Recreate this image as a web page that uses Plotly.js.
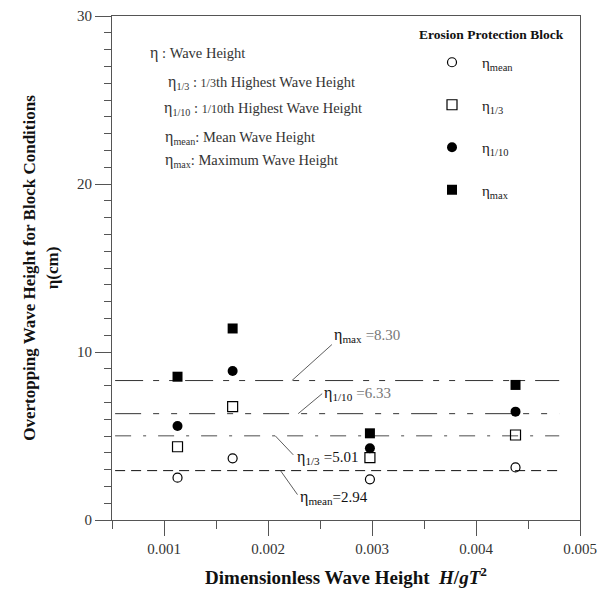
<!DOCTYPE html>
<html><head><meta charset="utf-8">
<script src="https://cdn.plot.ly/plotly-3.0.1.min.js"></script>
<style>html,body{margin:0;padding:0;background:#fff}</style>
</head><body><div id="chart" style="width:597px;height:597px"></div>
<script>
// ---- data ----
const xValues = [0.00113, 0.00166, 0.00298, 0.00438];
const etaMean = [2.52, 3.67, 2.42, 3.13];
const eta13 = [4.36, 6.75, 3.71, 5.06];
const eta110 = [5.60, 8.87, 4.27, 6.45];
const etaMax = [8.53, 11.40, 5.16, 8.04];
const seriesNames = ['η<sub>mean</sub>', 'η<sub>1/3</sub>', 'η<sub>1/10</sub>', 'η<sub>max</sub>'];
const avgKeys = ['max', '1/10', '1/3', 'mean'];
const avgValues = [8.30, 6.33, 5.01, 2.94];
const avgLabels = ['8.30', '6.33', '5.01', '2.94'];
const xTickVals = [0.001, 0.002, 0.003, 0.004, 0.005];
const xTickText = ['0.001', '0.002', '0.003', '0.004', '0.005'];
const yTickVals = [0, 10, 20, 30];
const ETA = '<span style="font-size:16px">η</span>';
const defLines = [
  ETA + ' : Wave Height',
  ETA + '<sub>1/3</sub> : <span style="font-size:12px">1/3</span>th Highest Wave Height',
  ETA + '<sub>1/10</sub> : <span style="font-size:12px">1/10</span>th Highest Wave Height',
  ETA + '<sub>mean</sub>: Mean Wave Height',
  ETA + '<sub>max</sub>: Maximum Wave Height'
];

// ---- styles ----
const FONT = 'Liberation Serif, Times New Roman, serif';
const lineExtent = [0.00053, 0.0048];
const avgStyles = {
  'max':  {color: '#333', dash: '28px,10px,6px,10px,6px,10px', width: 1},
  '1/10': {color: '#333', dash: '26px,12px,6px,12px,6px,12px', width: 1},
  '1/3':  {color: '#888', dash: '16px,12px,3px,12px', width: 1.5},
  'mean': {color: '#111', dash: '10px,6px', width: 1}
};
const leader = {
  'max':  {x: 0.00223, ax: 40, ay: -36, tx: 40, ty: 45, gap: ' ', col: '#777'},
  '1/10': {x: 0.00229, ax: 24, ay: -20, tx: 24, ty: 20, gap: ' ', col: '#777'},
  '1/3':  {x: 0.00207, ax: 18, ay: 19, tx: 20, ty: -22, gap: ' ', col: '#111'},
  'mean': {x: 0.00212, ax: 17, ay: 24, tx: 18, ty: -27, gap: '', col: '#111'}
};
const markerStyles = [
  {symbol: 'circle-open', size: 9, color: '#000', line: {width: 1.2, color: '#000'}},
  {symbol: 'square-open', size: 10, color: '#000', line: {width: 1.2, color: '#000'}},
  {symbol: 'circle', size: 10, color: '#000'},
  {symbol: 'square', size: 10, color: '#000'}
];
const seriesData = [etaMean, eta13, eta110, etaMax];

const traces = [];
avgKeys.forEach((k, i) => {
  traces.push({
    x: lineExtent, y: [avgValues[i], avgValues[i]], mode: 'lines',
    line: avgStyles[k], showlegend: false, hoverinfo: 'skip'
  });
});
seriesData.forEach((ys, i) => {
  traces.push({
    x: xValues, y: ys, mode: 'markers', name: seriesNames[i],
    legendgroup: 'g' + i, marker: markerStyles[i], cliponaxis: false
  });
});

const annotations = [];
const shapes = [];
avgKeys.forEach((k, i) => {
  const L = leader[k];
  shapes.push({
    type: 'line', xref: 'x', yref: 'y',
    xsizemode: 'pixel', ysizemode: 'pixel', xanchor: L.x, yanchor: avgValues[i],
    x0: 0, x1: L.ax, y0: 0, y1: -L.ay,
    line: {color: '#333', width: 0.8}
  });
  annotations.push({
    x: L.x, y: avgValues[i], xref: 'x', yref: 'y', showarrow: false,
    xanchor: 'left', yanchor: 'middle', xshift: L.tx, yshift: L.ty,
    text: 'η<sub>' + k + '</sub>' + L.gap + '<span style="color:' + L.col + ';font-size:15px">=' + avgLabels[i] + '</span>',
    font: {family: FONT, size: 16, color: '#111'}
  });
});
const defY = [53, 83, 108, 137, 160];
const defX = [148, 166, 162, 163, 163];
defLines.forEach((t, i) => {
  annotations.push({
    xref: 'paper', yref: 'paper', x: (defX[i] - 112) / 468, y: (520 - defY[i]) / 504,
    xanchor: 'left', yanchor: 'middle', showarrow: false, text: t,
    font: {family: FONT, size: 14.5, color: '#333'}
  });
});
annotations.push({
  xref: 'paper', yref: 'paper', x: (417 - 112) / 468, y: (520 - 35) / 504,
  xanchor: 'left', yanchor: 'middle', showarrow: false,
  text: '<b>Erosion Protection Block</b>', font: {family: FONT, size: 13.5, color: '#111'}
});

const layout = {
  width: 597, height: 597,
  margin: {l: 112, r: 17, t: 16, b: 77},
  paper_bgcolor: '#fff', plot_bgcolor: '#fff',
  font: {family: FONT, color: '#333'},
  showlegend: true,
  legend: {
    x: (422 - 112) / 468, y: (520 - 46) / 504, xanchor: 'left', yanchor: 'top',
    itemwidth: 50, tracegroupgap: 20, traceorder: 'grouped',
    font: {family: FONT, size: 15, color: '#222'}, bgcolor: 'rgba(0,0,0,0)'
  },
  xaxis: {
    range: [0.0005, 0.005], tickvals: xTickVals, ticktext: xTickText,
    ticks: 'outside', ticklen: 15, tickwidth: 1, tickcolor: '#555',
    minor: {dtick: 0.0005, tick0: 0, ticks: 'outside', ticklen: 8, tickcolor: '#555', showgrid: false},
    showgrid: false, zeroline: false, showline: true, linecolor: '#555', linewidth: 1, mirror: true,
    tickfont: {family: FONT, size: 15, color: '#333'},
    title: {text: '<b>Dimensionless Wave Height  <i>H</i>/<i>gT</i><sup>2</sup></b>',
      font: {family: FONT, size: 19, color: '#111'}, standoff: 14}
  },
  yaxis: {
    range: [0, 30], tickvals: yTickVals,
    ticks: 'outside', ticklen: 16, tickwidth: 1, tickcolor: '#555',
    minor: {dtick: 1, tick0: 0, ticks: 'outside', ticklen: 7, tickcolor: '#555', showgrid: false},
    showgrid: false, zeroline: false, showline: true, linecolor: '#555', linewidth: 1, mirror: true,
    tickfont: {family: FONT, size: 15, color: '#333'},
    title: {text: '<b>Overtopping Wave Height for Block Conditions<br>η(cm)</b>',
      font: {family: FONT, size: 17, color: '#111'}, standoff: 14}
  },
  shapes: shapes,
  annotations: annotations
};
Plotly.newPlot('chart', traces, layout, {displayModeBar: false, staticPlot: true});
</script></body></html>
